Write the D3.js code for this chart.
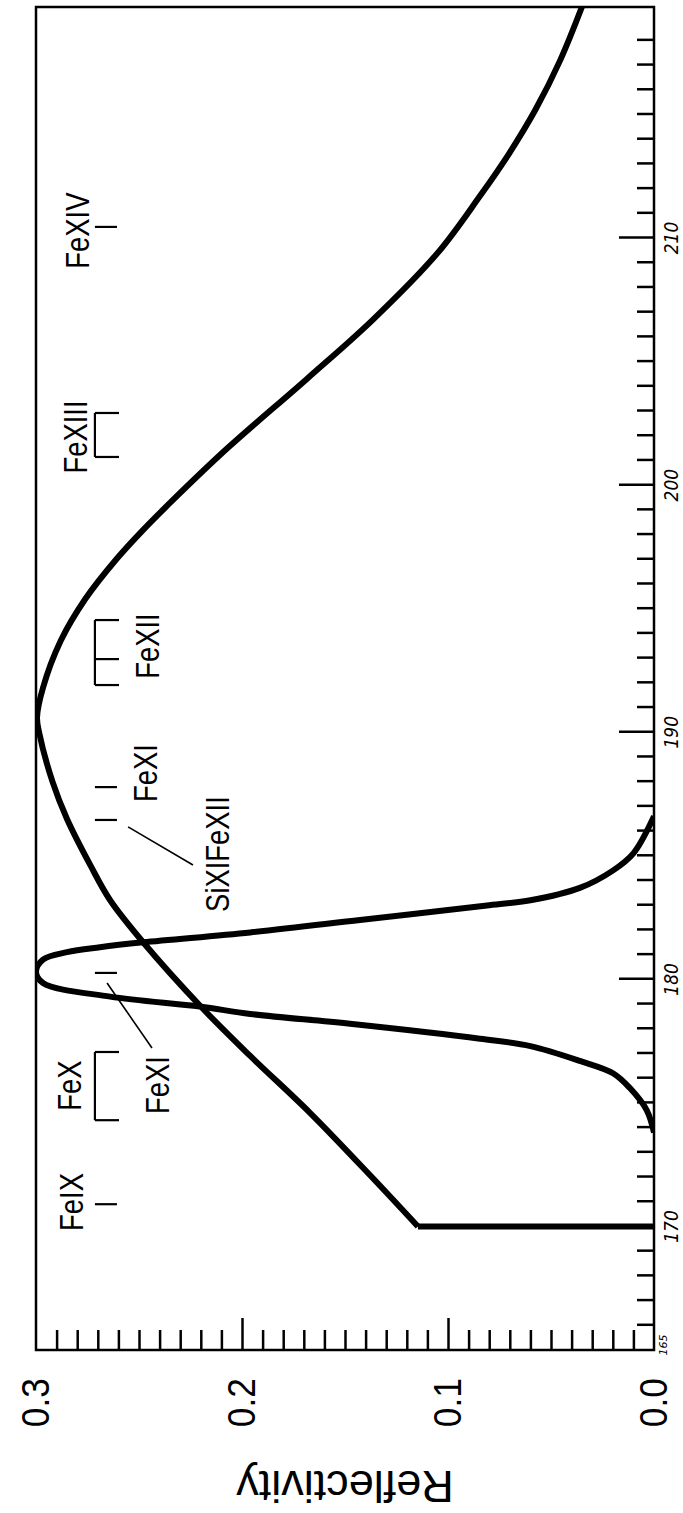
<!DOCTYPE html>
<html>
<head>
<meta charset="utf-8">
<title>Reflectivity vs wavelength</title>
<script src="https://d3js.org/d3.v7.min.js"></script>
<style>
  html, body { margin: 0; padding: 0; background: #fff; }
  svg { display: block; }
</style>
</head>
<body>
<div id="chart"></div>
<script>
// values (wavelength in Angstrom, reflectivity 0..0.3)
const broadWave = [170.0, 172.0, 174.6, 176.9, 178.9, 181.5, 183.2, 184.6, 186.5, 188.0, 190.0, 190.6,
                   191.8, 193.7, 195.4, 197.0, 198.1, 199.4, 201.5, 204.3, 206.7, 209.4, 211.7, 213.4, 215.2, 217.2, 219.35];
const broadRefl = [0.1146, 0.137, 0.167, 0.196, 0.220, 0.248, 0.264, 0.2735, 0.285, 0.292, 0.2985, 0.2995,
                   0.2966, 0.288, 0.276, 0.261, 0.249, 0.2335, 0.207, 0.1685, 0.1364, 0.105, 0.0845, 0.0705, 0.0575, 0.0455, 0.035];
const jumpWave = [170.0, 170.0];
const jumpRefl = [0.0, 0.1146];

const narrowWave = [173.8, 174.7, 175.6, 176.2, 176.7, 177.3, 177.6, 178.2, 178.6, 178.9, 179.3, 179.85, 180.3,
                    180.8, 181.1, 181.3, 181.5, 181.9, 182.4, 183.0, 183.2, 183.7, 184.4, 185.1, 186.6];
const narrowRefl = [0.0, 0.0035, 0.0117, 0.0199, 0.036, 0.060, 0.0845, 0.1476, 0.196, 0.2204, 0.264, 0.2966, 0.300,
                    0.2966, 0.285, 0.269, 0.248, 0.196, 0.1427, 0.080, 0.060, 0.036, 0.020, 0.010, 0.0];

const reflLabels = [0.0, 0.1, 0.2, 0.3];
const waveLabels = [170, 180, 190, 200, 210];

const ionNames = ["FeIX", "FeX", "FeXI", "SiXIFeXII", "FeXI", "FeXII", "FeXIII", "FeXIV"];
const ionMarks = [[170.9], [174.3, 177.06], [180.26], [186.45], [187.78], [191.91, 192.96, 194.54], [201.14, 202.92], [210.45]];

// layout of the labels (data coordinates), kept apart from the values
const labelPlace = [[170.99, 0.2825], [175.7, 0.2835], [175.72, 0.241], [185.07, 0.212],
                    [188.35, 0.247], [193.49, 0.246], [201.95, 0.281], [210.3, 0.280]];
const leaders = [[[179.85, 0.2655], [177.22, 0.2437]], [[186.17, 0.2553], [184.63, 0.2238]]];

// the figure is drawn as a normal chart, then turned a quarter turn to the left
const W = 1513, H = 683;
const x = d3.scaleLinear().domain([165, 219.35]).range([163, 1506]);
const y = d3.scaleLinear().domain([0, 0.3]).range([654, 36]);

const svg = d3.select("#chart").append("svg")
    .attr("width", H)
    .attr("height", W);
svg.append("rect").attr("width", H).attr("height", W).attr("fill", "#fff");

const g = svg.append("g")
    .attr("transform", "translate(0," + W + ") rotate(-90)");

const font = "'Liberation Sans', Arial, Helvetica, sans-serif";
const hand = "'DejaVu Sans', sans-serif";

g.append("clipPath").attr("id", "plot")
  .append("rect")
    .attr("x", x(165)).attr("y", y(0.3))
    .attr("width", x(219.35) - x(165)).attr("height", y(0) - y(0.3));

// reflectivity ticks (inside the frame)
const minorR = d3.range(1, 30).filter(i => i % 10 !== 0).map(i => i / 100);
g.append("g").attr("transform", "translate(" + x(165) + ",0)")
  .call(d3.axisRight(y).tickValues(minorR).tickSize(20).tickFormat(""))
  .call(a => a.select(".domain").remove())
  .selectAll("line").attr("stroke", "#000").attr("stroke-width", 2.5);
g.append("g").attr("transform", "translate(" + x(165) + ",0)")
  .call(d3.axisRight(y).tickValues([0.1, 0.2]).tickSize(32).tickFormat(""))
  .call(a => a.select(".domain").remove())
  .selectAll("line").attr("stroke", "#000").attr("stroke-width", 2.5);

// wavelength ticks (inside the frame)
const minorW = d3.range(166, 219).filter(v => v % 10 !== 0);
g.append("g").attr("transform", "translate(0," + y(0) + ")")
  .call(d3.axisTop(x).tickValues(minorW).tickSize(17).tickFormat(""))
  .call(a => a.select(".domain").remove())
  .selectAll("line").attr("stroke", "#000").attr("stroke-width", 2.5);
g.append("g").attr("transform", "translate(0," + y(0) + ")")
  .call(d3.axisTop(x).tickValues(waveLabels).tickSize(35).tickFormat(""))
  .call(a => a.select(".domain").remove())
  .selectAll("line").attr("stroke", "#000").attr("stroke-width", 2.5);

// frame
g.append("rect")
    .attr("x", x(165)).attr("y", y(0.3))
    .attr("width", x(219.35) - x(165)).attr("height", y(0) - y(0.3))
    .attr("fill", "none").attr("stroke", "#000").attr("stroke-width", 2.5);

// reflectivity tick labels
g.selectAll(".rlab").data(reflLabels).enter().append("text")
    .attr("class", "rlab")
    .attr("transform", d => "translate(" + (x(165) - 28) + "," + y(d) + ") scale(0.93,1)")
    .attr("text-anchor", "end")
    .attr("dominant-baseline", "central")
    .attr("font-family", font).attr("font-size", 38)
    .text(d => d.toFixed(1));

// hand written wavelength labels
g.selectAll(".wlab").data(waveLabels).enter().append("text")
    .attr("class", "wlab")
    .attr("transform", d => "translate(" + x(d) + "," + (y(0) + 24) + ") scale(0.95,1.1)")
    .attr("text-anchor", "middle")
    .attr("font-family", hand).attr("font-style", "italic")
    .attr("font-size", 18)
    .text(d => d);
g.append("text")
    .attr("x", x(165) + 5).attr("y", y(0) + 13)
    .attr("text-anchor", "middle")
    .attr("font-family", hand).attr("font-style", "italic")
    .attr("font-size", 11)
    .text("165");

// axis title
g.append("text")
    .attr("transform", "translate(27," + (y(0.3) + y(0)) / 2 + ") rotate(-90)")
    .attr("text-anchor", "middle")
    .attr("dominant-baseline", "central")
    .attr("font-family", font).attr("font-size", 45)
    .text("Reflectivity");

// curves
const line = d3.line().x(d => x(d[0])).y(d => y(d[1])).curve(d3.curveCatmullRom.alpha(0.5));
const curves = g.append("g").attr("clip-path", "url(#plot)")
    .attr("fill", "none").attr("stroke", "#000").attr("stroke-width", 6)
    .attr("stroke-linejoin", "round");
curves.append("path").attr("d", d3.line().x(d => x(d[0])).y(d => y(d[1]))(d3.zip(jumpWave, jumpRefl)));
curves.append("path").attr("d", line(d3.zip(broadWave, broadRefl)));
curves.append("path").attr("d", line(d3.zip(narrowWave, narrowRefl)));

// emission line markers
const rTop = 0.2714, rBot = 0.2607;
const marks = g.append("g").attr("fill", "none").attr("stroke", "#000").attr("stroke-width", 2.2);
ionMarks.forEach(function (waves) {
  if (waves.length === 1) {
    marks.append("line")
        .attr("x1", x(waves[0])).attr("x2", x(waves[0]))
        .attr("y1", y(rTop)).attr("y2", y(rBot));
  } else {
    const lo = d3.min(waves), hi = d3.max(waves);
    marks.append("line")
        .attr("x1", x(lo)).attr("x2", x(hi))
        .attr("y1", y(rTop)).attr("y2", y(rTop));
    waves.forEach(function (w) {
      marks.append("line")
          .attr("x1", x(w)).attr("x2", x(w))
          .attr("y1", y(rTop)).attr("y2", y(rBot - 0.001));
    });
  }
});
leaders.forEach(function (l) {
  marks.append("line")
      .attr("x1", x(l[0][0])).attr("y1", y(l[0][1]))
      .attr("x2", x(l[1][0])).attr("y2", y(l[1][1]))
      .attr("stroke-width", 1.6);
});

g.selectAll(".ion").data(ionNames).enter().append("text")
    .attr("class", "ion")
    .attr("transform", (d, i) => "translate(" + x(labelPlace[i][0]) + "," + y(labelPlace[i][1]) + ") scale(0.83,1)")
    .attr("text-anchor", "middle")
    .attr("dominant-baseline", "central")
    .attr("font-family", font).attr("font-size", 33)
    .text(d => d);
</script>
</body>
</html>
